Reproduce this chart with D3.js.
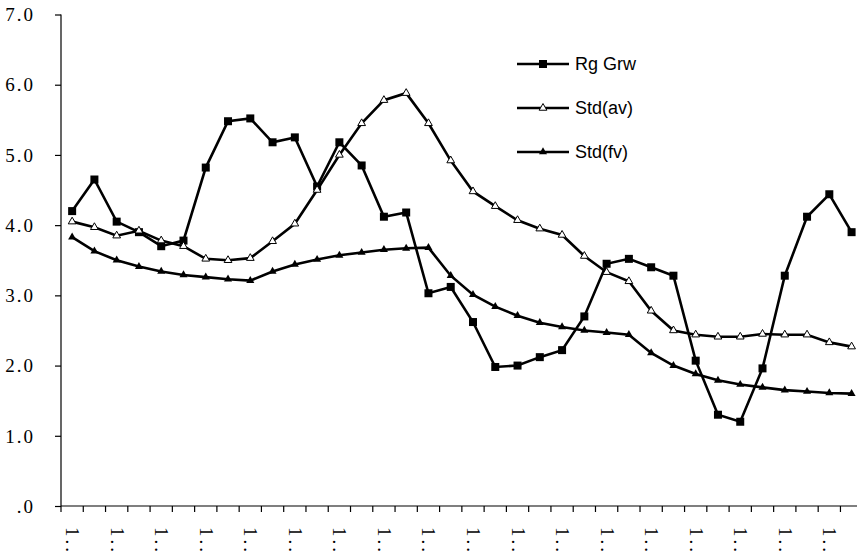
<!DOCTYPE html>
<html>
<head>
<meta charset="utf-8">
<script src="https://cdn.jsdelivr.net/npm/d3@7"></script>
<style>
  html, body { margin: 0; padding: 0; background: #fff; }
  svg { display: block; }
</style>
</head>
<body>
<svg id="chart" width="857" height="556"></svg>
<script>
// ---- data ----
const categories = ["1..","1..","1..","1..","1..","1..","1..","1..","1..","1..","1..","1..",
                    "1..","1..","1..","1..","1..","1..","1..","1..","1..","1..","1..","1..",
                    "1..","1..","1..","1..","1..","1..","1..","1..","1..","1..","1..","1.."];
const rgGrw = [4.20,4.65,4.05,3.90,3.70,3.78,4.82,5.48,5.52,5.18,5.25,4.55,
               5.18,4.85,4.12,4.18,3.03,3.12,2.62,1.98,2.00,2.12,2.22,2.70,
               3.45,3.52,3.40,3.28,2.07,1.30,1.20,1.96,3.28,4.12,4.44,3.90];
const stdAv = [4.05,3.97,3.85,3.92,3.78,3.70,3.52,3.50,3.53,3.77,4.02,4.50,
               5.00,5.45,5.78,5.88,5.45,4.92,4.48,4.27,4.07,3.95,3.86,3.56,
               3.33,3.20,2.78,2.50,2.44,2.41,2.41,2.45,2.44,2.44,2.33,2.27];
const stdFv = [3.83,3.63,3.50,3.41,3.34,3.29,3.26,3.23,3.21,3.34,3.44,3.51,
               3.57,3.61,3.65,3.67,3.68,3.28,3.01,2.84,2.71,2.61,2.55,2.50,
               2.47,2.44,2.18,2.00,1.88,1.79,1.73,1.69,1.65,1.63,1.61,1.60];
const yTicks = [0,1,2,3,4,5,6,7];
const seriesNames = ["Rg Grw","Std(av)","Std(fv)"];

const SERIF = '"Liberation Serif"';
const SANS = '"Liberation Sans"';

// ---- layout ----
const svg = d3.select("#chart");
const plotLeft = 61, plotTop = 14.5, plotBottom = 506, step = 22.27;
const idx = d3.range(categories.length);
const x = d3.scaleBand().domain(idx).range([plotLeft, plotLeft + step * categories.length]).paddingInner(0).paddingOuter(0);
const y = d3.scaleLinear().domain([0, 7]).range([plotBottom, plotTop]);
const cx = i => x(i) + x.bandwidth() / 2;

// y axis
const yAxis = d3.axisLeft(y).tickValues(yTicks).tickSize(6).tickPadding(20)
  .tickFormat(d => d === 0 ? ".0" : d3.format(".1f")(d));
const gy = svg.append("g").attr("transform", `translate(${plotLeft},0)`).call(yAxis);
gy.attr("font-family", null).attr("font-size", null);
gy.select(".domain").attr("d", `M0,${plotTop}V${plotBottom}`).attr("stroke", "#000").attr("stroke-width", 1.2);
gy.selectAll(".tick line").attr("stroke", "#000").attr("stroke-width", 1.2);
gy.selectAll(".tick text").style("font-family", SERIF).style("font-size", "19px")
  .style("letter-spacing", "2px").attr("fill", "#000").attr("dy", "0.33em");

// x axis line + boundary ticks
const gx = svg.append("g");
gx.append("line").attr("x1", plotLeft).attr("x2", x.range()[1]).attr("y1", plotBottom).attr("y2", plotBottom)
  .attr("stroke", "#000").attr("stroke-width", 1.2);
gx.selectAll("line.tk").data(idx.concat([categories.length])).join("line").attr("class", "tk")
  .attr("x1", i => i < categories.length ? x(i) : x.range()[1])
  .attr("x2", i => i < categories.length ? x(i) : x.range()[1])
  .attr("y1", plotBottom).attr("y2", plotBottom + 6).attr("stroke", "#000").attr("stroke-width", 1.2);
// x labels (every other category), rotated
gx.selectAll("text.xl").data(idx.filter(i => i % 2 === 0)).join("text").attr("class", "xl")
  .attr("transform", i => `translate(${cx(i) - 6},527) rotate(90)`)
  .style("font-family", SERIF).style("font-size", "19px").style("letter-spacing", "3px").attr("fill", "#000")
  .text(i => categories[i]);

// lines
const line = d3.line().x((d, i) => cx(i)).y(d => y(d));
const series = [rgGrw, stdAv, stdFv];
series.forEach(s => {
  svg.append("path").datum(s).attr("d", line).attr("fill", "none")
    .attr("stroke", "#000").attr("stroke-width", 2.6).attr("stroke-linejoin", "miter");
});

// markers
const tri = d3.symbol().type(d3.symbolTriangle);
svg.append("g").selectAll("rect").data(rgGrw).join("rect")
  .attr("x", (d, i) => cx(i) - 4).attr("y", d => y(d) - 4).attr("width", 8).attr("height", 8).attr("fill", "#000");
svg.append("g").selectAll("path").data(stdAv).join("path")
  .attr("transform", (d, i) => `translate(${cx(i)},${y(d)})`).attr("d", tri.size(26))
  .attr("fill", "#fff").attr("stroke", "#000").attr("stroke-width", 1);
svg.append("g").selectAll("path").data(stdFv).join("path")
  .attr("transform", (d, i) => `translate(${cx(i)},${y(d)})`).attr("d", tri.size(28))
  .attr("fill", "#000");

// legend
const legY = [64, 108, 152];
const lg = svg.append("g");
seriesNames.forEach((name, k) => {
  lg.append("line").attr("x1", 517).attr("x2", 569).attr("y1", legY[k]).attr("y2", legY[k])
    .attr("stroke", "#000").attr("stroke-width", 2.6);
  if (k === 0) lg.append("rect").attr("x", 539).attr("y", legY[k] - 4).attr("width", 8).attr("height", 8).attr("fill", "#000");
  if (k === 1) lg.append("path").attr("transform", `translate(543,${legY[k]})`).attr("d", tri.size(26))
    .attr("fill", "#fff").attr("stroke", "#000").attr("stroke-width", 1);
  if (k === 2) lg.append("path").attr("transform", `translate(543,${legY[k]})`).attr("d", tri.size(28)).attr("fill", "#000");
  lg.append("text").attr("x", 575).attr("y", legY[k]).attr("dy", "0.36em")
    .style("font-family", SANS).style("font-size", "18px").attr("fill", "#000")
    .text(name);
});
</script>
</body>
</html>
